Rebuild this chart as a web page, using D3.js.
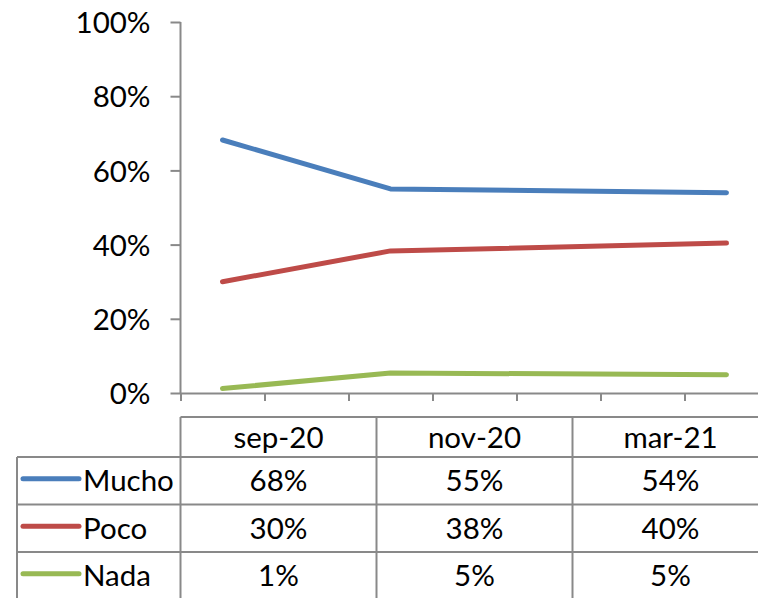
<!DOCTYPE html>
<html><head><meta charset="utf-8">
<script src="https://cdn.jsdelivr.net/npm/d3@7"></script>
<style>html,body{margin:0;padding:0;background:#fff;overflow:hidden}</style>
</head><body>
<svg id="c" width="758" height="598"></svg>
<script>
const categories = ["sep-20", "nov-20", "mar-21"];
const dates = ["2020-09", "2020-11", "2021-03"];
const seriesNames = ["Mucho", "Poco", "Nada"];
const mucho = [0.682, 0.55, 0.54];
const poco = [0.30, 0.383, 0.404];
const nada = [0.012, 0.054, 0.049];
const tableLabels = [["68%", "55%", "54%"], ["30%", "38%", "40%"], ["1%", "5%", "5%"]];
const yTicks = [0, 0.2, 0.4, 0.6, 0.8, 1.0];
const colors = ["#4A7EBB", "#BE4B48", "#98B954"];

const series = [mucho, poco, nada];
const svg = d3.select("#c");
const font = "Lato, 'Open Sans', sans-serif";
const fs = 29.5;
const axisColor = "#898989";

const parse = d3.timeParse("%Y-%m");
const d0 = parse(dates[0]);
const monthIdx = dates.map(s => { const d = parse(s); return (d.getFullYear() - d0.getFullYear()) * 12 + d.getMonth() - d0.getMonth(); });
const nMonths = d3.max(monthIdx) + 1;

const x = d3.scaleLinear().domain([-0.5, nMonths - 0.5]).range([180.5, 768.5]);
const y = d3.scaleLinear().domain([0, 1]).range([393, 22]);

// y axis
const yAxis = svg.append("g").attr("transform", "translate(180.5,0)")
  .call(d3.axisLeft(y).tickValues(yTicks).tickFormat(d3.format(".0%")).tickSize(10).tickPadding(20));
yAxis.select(".domain").attr("stroke", axisColor).attr("stroke-width", 2).attr("d", `M0,${y(1)}V${y(0)}`);
yAxis.selectAll(".tick line").attr("stroke", axisColor).attr("stroke-width", 2);
yAxis.selectAll(".tick text").attr("font-family", font).attr("font-size", fs).attr("fill", "#000").attr("dy", "0.36em");

// x axis (monthly date axis, ticks between months)
const xTickVals = d3.range(nMonths + 1).map(i => i - 0.5);
const xAxis = svg.append("g").attr("transform", `translate(0,${y(0)})`)
  .call(d3.axisBottom(x).tickValues(xTickVals).tickFormat("").tickSize(8).tickSizeOuter(0));
xAxis.select(".domain").attr("stroke", axisColor).attr("stroke-width", 2);
xAxis.selectAll(".tick line").attr("stroke", axisColor).attr("stroke-width", 2);

// lines
const line = d3.line().x((d, i) => x(monthIdx[i])).y(d => y(d));
series.forEach((s, k) => {
  svg.append("path").datum(s).attr("d", line).attr("fill", "none")
    .attr("stroke", colors[k]).attr("stroke-width", 5)
    .attr("stroke-linecap", "round").attr("stroke-linejoin", "round");
});

// data table
const colX = d3.scaleBand().domain(categories).range([180.5, 768.5]);
const headerTop = 417, headerBottom = 457, rowH = 47.5;
const legendLeft = 17;
const rowY = d3.scaleBand().domain(seriesNames).range([headerBottom, headerBottom + rowH * seriesNames.length]);
const tg = svg.append("g");
function hline(x1, x2, yy) { tg.append("line").attr("x1", x1).attr("x2", x2).attr("y1", yy).attr("y2", yy).attr("stroke", axisColor).attr("stroke-width", 2); }
function vline(xx, y1, y2) { tg.append("line").attr("x1", xx).attr("x2", xx).attr("y1", y1).attr("y2", y2).attr("stroke", axisColor).attr("stroke-width", 2); }

hline(colX.range()[0], colX.range()[1], headerTop);
hline(legendLeft, colX.range()[1], headerBottom);
seriesNames.forEach(n => hline(legendLeft, colX.range()[1], rowY(n) + rowY.bandwidth()));
const tableBottom = headerBottom + rowH * seriesNames.length;
vline(legendLeft, headerBottom, tableBottom);
categories.forEach(c => vline(colX(c), headerTop, tableBottom));
vline(colX.range()[1], headerTop, tableBottom);

// header text
categories.forEach(c => {
  tg.append("text").attr("x", colX(c) + colX.bandwidth() / 2).attr("y", (headerTop + headerBottom) / 2)
    .attr("dy", "0.36em").attr("text-anchor", "middle").attr("font-family", font).attr("font-size", fs).text(c);
});
// rows
seriesNames.forEach((n, k) => {
  const cy = rowY(n) + rowY.bandwidth() / 2;
  tg.append("line").attr("x1", 23).attr("x2", 79).attr("y1", cy - 2).attr("y2", cy - 2)
    .attr("stroke", colors[k]).attr("stroke-width", 5).attr("stroke-linecap", "round");
  tg.append("text").attr("x", 83).attr("y", cy).attr("dy", "0.36em")
    .attr("font-family", font).attr("font-size", fs).text(n);
  categories.forEach((c, i) => {
    tg.append("text").attr("x", colX(c) + colX.bandwidth() / 2).attr("y", cy).attr("dy", "0.36em")
      .attr("text-anchor", "middle").attr("font-family", font).attr("font-size", fs).text(tableLabels[k][i]);
  });
});
</script>
</body></html>
